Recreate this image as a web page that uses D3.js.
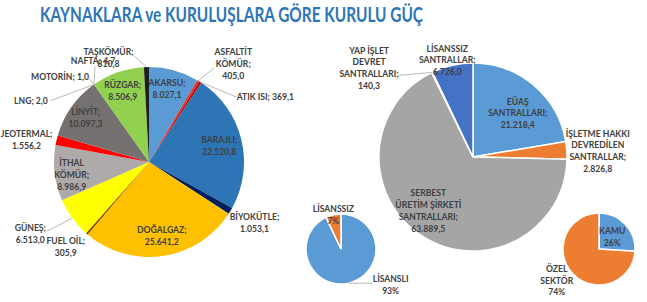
<!DOCTYPE html>
<html>
<head>
<meta charset="utf-8">
<script src="https://cdn.jsdelivr.net/npm/d3@7"></script>
<style>
  body { margin: 0; background: #fff; }
  text { font-family: Lato, "Open Sans", sans-serif; font-weight: bold; }
</style>
</head>
<body>
<div id="chart"></div>
<script>
// installed capacity by source (MW)
const sourceNames = ["AKARSU", "ASFALTİT KÖMÜR", "ATIK ISI", "BARAJLI", "BİYOKÜTLE", "DOĞALGAZ", "FUEL OİL", "GÜNEŞ",
    "İTHAL KÖMÜR", "JEOTERMAL", "LİNYİT", "LNG", "MOTORİN", "NAFTA", "RÜZGAR", "TAŞKÖMÜR"];
const sourceValues = [8027.1, 405.0, 369.1, 22520.8, 1053.1, 25641.2, 305.9, 6513.0,
    8986.9, 1556.2, 10097.3, 2.0, 1.0, 4.7, 8506.9, 810.8];

// installed capacity by owner type (MW)
const plantNames = ["EÜAŞ SANTRALLARI", "İŞLETME HAKKI DEVREDİLEN SANTRALLAR", "SERBEST ÜRETİM ŞİRKETİ SANTRALLARI",
    "YAP İŞLET DEVRET SANTRALLARI", "LİSANSSIZ SANTRALLAR"];
const plantValues = [21218.4, 2826.8, 63889.5, 140.3, 6726.0];

// shares (%)
const licenceNames = ["LİSANSLI", "LİSANSSIZ"];
const licenceShares = [93, 7];
const ownerNames = ["KAMU", "ÖZEL SEKTÖR"];
const ownerShares = [26, 74];

const sourceColors = ["#5b9bd5", "#e03a2f", "#c00000", "#2e75b6", "#002060", "#ffc000", "#843c0c", "#ffff00",
    "#aeaaaa", "#ff0000", "#767171", "#7030a0", "#00b050", "#c55a11", "#92d050", "#1e1e1e"];
const plantColors = ["#5b9bd5", "#ed7d31", "#a5a5a5", "#ffc000", "#4472c4"];
const licenceColors = ["#5b9bd5", "#ed7d31"];
const ownerColors = ["#5b9bd5", "#ed7d31"];

const trNum = d3.formatLocale({decimal: ",", thousands: ".", grouping: [3], currency: ["", ""]}).format(",.1f");
const pct = v => v + "%";

// label placement: offset from the arc edge at the slice mid-angle, optional leader end
const sourceLabels = [
    {lines: ["AKARSU;", "{v}"], dx: -7, dy: 19},
    {lines: ["ASFALTİT", "KÖMÜR;", "{v}"], dx: 35, dy: -17, leader: [16, -13]},
    {lines: ["ATIK ISI; {v}"], dx: 65, dy: 15, leader: [36, 15]},
    {lines: ["BARAJLI;", "{v}"], dx: -22, dy: 7},
    {lines: ["BİYOKÜTLE;", "{v}"], dx: 24, dy: 12},
    {lines: ["DOĞALGAZ;", "{v}"], dx: -1, dy: -20},
    {lines: ["FUEL OİL;", "{v}"], dx: -21, dy: 13},
    {lines: ["GÜNEŞ;", "{v}"], dx: -42, dy: 16, leader: [-25, 13]},
    {lines: ["İTHAL", "KÖMÜR;", "{v}"], dx: 17, dy: 2},
    {lines: ["JEOTERMAL;", "{v}"], dx: -30, dy: 0},
    {lines: ["LİNYİT;", "{v}"], dx: 14, dy: 11},
    {lines: ["LNG; {v}"], dx: -63, dy: 16, leader: [-43, 16]},
    {lines: ["MOTORİN; {v}"], dx: -34, dy: -8, leader: [-5, -6]},
    {lines: ["NAFTA; {v}"], dx: -1, dy: -24, leader: [1, -18]},
    {lines: ["RÜZGAR;", "{v}"], dx: 5, dy: 19},
    {lines: ["TAŞKÖMÜR;", "{v}"], dx: -38, dy: -9, leader: [-12, -11]}
];
const plantLabels = [
    {lines: ["EÜAŞ", "SANTRALLARI;", "{v}"], dx: -16, dy: 28},
    {lines: ["İŞLETME HAKKI", "DEVREDİLEN", "SANTRALLAR;", "{v}"], dx: 31, dy: 1},
    {lines: ["SERBEST", "ÜRETİM ŞİRKETİ", "SANTRALLARI;", "{v}"], dx: 6, dy: -25},
    {lines: ["YAP İŞLET", "DEVRET", "SANTRALLARI;", "{v}"], dx: -63, dy: -4, leader: [-34, 3]},
    {lines: ["LİSANSSIZ", "SANTRALLAR;", "{v}"], dx: -5, dy: -5}
];
const licenceLabels = [
    {lines: ["LİSANSLI", "{v}"], dx: 42, dy: 2, leader: [24, 0]},
    {lines: ["LİSANSSIZ", "{v}"], dx: 0, dy: 0}
];
const ownerLabels = [
    {lines: ["KAMU", "{v}"], dx: -13, dy: 13},
    {lines: ["ÖZEL", "SEKTÖR", "{v}"], dx: -16, dy: 7}
];

const width = 647, height = 302;
const svg = d3.select("#chart").append("svg")
    .attr("width", width)
    .attr("height", height);

svg.append("text")
    .attr("x", 40)
    .attr("y", 22)
    .attr("font-size", 21)
    .attr("fill", "#2e75b6")
    .attr("textLength", 383)
    .attr("lengthAdjust", "spacingAndGlyphs")
    .text("KAYNAKLARA ve KURULUŞLARA GÖRE KURULU GÜÇ");

function drawPie({cx, cy, r, names, values, colors, labels, fmt, stroke}) {
    const data = names.map((name, i) => ({name, value: values[i]}));
    const pie = d3.pie().sort(null).value(d => d.value);
    const arc = d3.arc().innerRadius(0).outerRadius(r);
    const color = d3.scaleOrdinal().domain(names).range(colors);
    const arcs = pie(data);

    const g = svg.append("g").attr("transform", `translate(${cx},${cy})`);

    g.selectAll("path.slice")
        .data(arcs)
        .join("path")
        .attr("class", "slice")
        .attr("d", arc)
        .attr("fill", d => color(d.data.name))
        .attr("stroke", stroke || "none")
        .attr("stroke-width", stroke ? 1.5 : 0);

    const lineH = 11.8;
    arcs.forEach((d, i) => {
        const lab = labels[i];
        const mid = (d.startAngle + d.endAngle) / 2;
        const ex = Math.sin(mid) * r, ey = -Math.cos(mid) * r;
        if (lab.leader) {
            g.append("line")
                .attr("x1", ex).attr("y1", ey)
                .attr("x2", ex + lab.leader[0]).attr("y2", ey + lab.leader[1])
                .attr("stroke", "#a6a6a6")
                .attr("stroke-width", 0.8);
        }
        const lx = ex + lab.dx, ly = ey + lab.dy;
        const n = lab.lines.length;
        const t = g.append("text")
            .attr("text-anchor", "middle")
            .attr("font-size", 8.6)
            .attr("fill", "#404040");
        lab.lines.forEach((s, k) => {
            t.append("tspan")
                .attr("x", lx)
                .attr("y", ly + (k - (n - 1) / 2) * lineH)
                .attr("dominant-baseline", "central")
                .text(s.replace("{v}", fmt(d.data.value)));
        });
    });
}

drawPie({cx: 149, cy: 162, r: 95, names: sourceNames, values: sourceValues,
    colors: sourceColors, labels: sourceLabels, fmt: trNum});
drawPie({cx: 473, cy: 157, r: 94, names: plantNames, values: plantValues,
    colors: plantColors, labels: plantLabels, fmt: trNum, stroke: "#fff"});
drawPie({cx: 341, cy: 249, r: 35, names: licenceNames, values: licenceShares,
    colors: licenceColors, labels: licenceLabels, fmt: pct, stroke: "#fff"});
drawPie({cx: 599, cy: 249, r: 36, names: ownerNames, values: ownerShares,
    colors: ownerColors, labels: ownerLabels, fmt: pct, stroke: "#fff"});
</script>
</body>
</html>
